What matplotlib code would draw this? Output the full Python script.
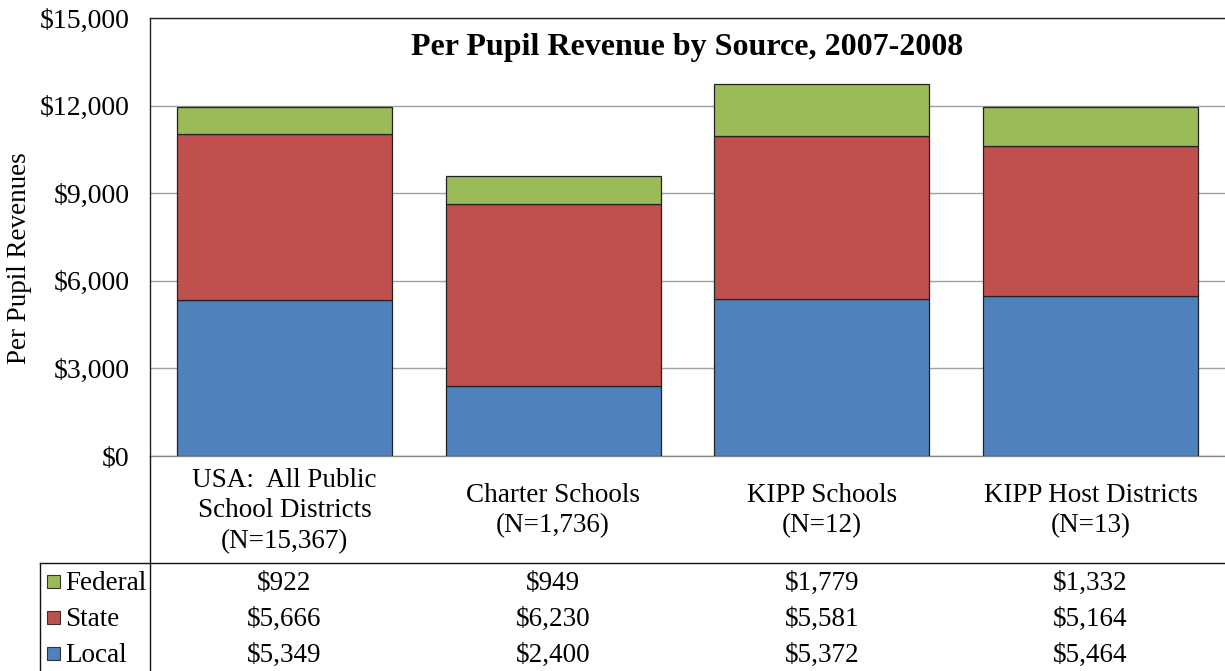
import matplotlib
matplotlib.use("Agg")
import matplotlib.pyplot as plt
from matplotlib.lines import Line2D
from matplotlib.patches import Rectangle
import numpy as np

categories = ["USA:  All Public\nSchool Districts\n(N=15,367)",
              "Charter Schools\n(N=1,736)",
              "KIPP Schools\n(N=12)",
              "KIPP Host Districts\n(N=13)"]
local = [5349, 2400, 5372, 5464]
state = [5666, 6230, 5581, 5164]
federal = [922, 949, 1779, 1332]
series_names = ["Federal", "State", "Local"]
title = "Per Pupil Revenue by Source, 2007-2008"
ylabel = "Per Pupil Revenues"

colors = {"Local": "#4F81BD", "State": "#C0504D", "Federal": "#9BBB59"}

W, H = 1225, 671
plt.rcParams['font.family'] = ['Liberation Serif', 'DejaVu Serif']
fig = plt.figure(figsize=(W / 100, H / 100), dpi=100)

def fx(px):
    return px / W

def fy(py):
    return 1 - py / H

ax = fig.add_axes([fx(150), fy(456), fx(1225) - fx(150), fy(18) - fy(456)])
x = np.arange(len(categories))
bw = 0.8
ax.bar(x, local, bw, color=colors["Local"], edgecolor="#222222", linewidth=0.9, zorder=3)
ax.bar(x, state, bw, bottom=local, color=colors["State"], edgecolor="#222222", linewidth=0.9, zorder=3)
bottom2 = np.array(local) + np.array(state)
ax.bar(x, federal, bw, bottom=bottom2, color=colors["Federal"], edgecolor="#222222", linewidth=0.9, zorder=3)

ax.set_xlim(-0.5, len(categories) - 0.5)
ax.set_ylim(0, 15000)
ax.set_yticks(np.arange(0, 15001, 3000))
ax.set_yticklabels(["${:,}".format(v) for v in range(0, 15001, 3000)], fontsize=20)
ax.set_xticks([])
ax.tick_params(axis='y', length=0, pad=14.5)
ax.yaxis.grid(True, color="#A0A0A0", linewidth=1.0, zorder=0)
ax.set_axisbelow(True)
ax.spines['top'].set_color("#222222")
ax.spines['left'].set_color("#222222")
ax.spines['right'].set_visible(False)
ax.spines['bottom'].set_color("#888888")
for s in ax.spines.values():
    s.set_linewidth(1.0)

ax.text(0.5, (456 - 48) / 438, title, transform=ax.transAxes, ha='center', va='center',
        fontsize=23, fontweight='bold')
fig.text(fx(20), fy(258), ylabel, rotation=90, ha='center', va='center', fontsize=19.5)

# category labels beneath plot
trans = matplotlib.transforms.blended_transform_factory(ax.transData, fig.transFigure)
for i, c in enumerate(categories):
    ax.text(i, fy(511), c, transform=trans, ha='center', va='center', fontsize=19.5,
            linespacing=1.27, clip_on=False)

# table lines
lc = "#111111"
fig.add_artist(Line2D([fx(150), fx(150)], [fy(456), 0], color=lc, lw=1.0))
fig.add_artist(Line2D([fx(40), 1], [fy(563), fy(563)], color=lc, lw=1.0))
fig.add_artist(Line2D([fx(40), fx(40)], [fy(563), 0], color=lc, lw=1.0))

rows = {"Federal": federal, "State": state, "Local": local}
row_y = [583, 619, 655]
for name, py in zip(series_names, row_y):
    fig.add_artist(Rectangle((fx(47), fy(py + 5)), fx(13), 13 / H, transform=fig.transFigure,
                             facecolor=colors[name], edgecolor="#333333", lw=0.8))
    fig.text(fx(65), fy(py), name, ha='left', va='center', fontsize=19.5)
    for i, v in enumerate(rows[name]):
        ax.text(i, fy(py), "${:,}".format(v), transform=trans, ha='center', va='center',
                fontsize=19.5, clip_on=False)

fig.savefig("out.png", dpi=100)
